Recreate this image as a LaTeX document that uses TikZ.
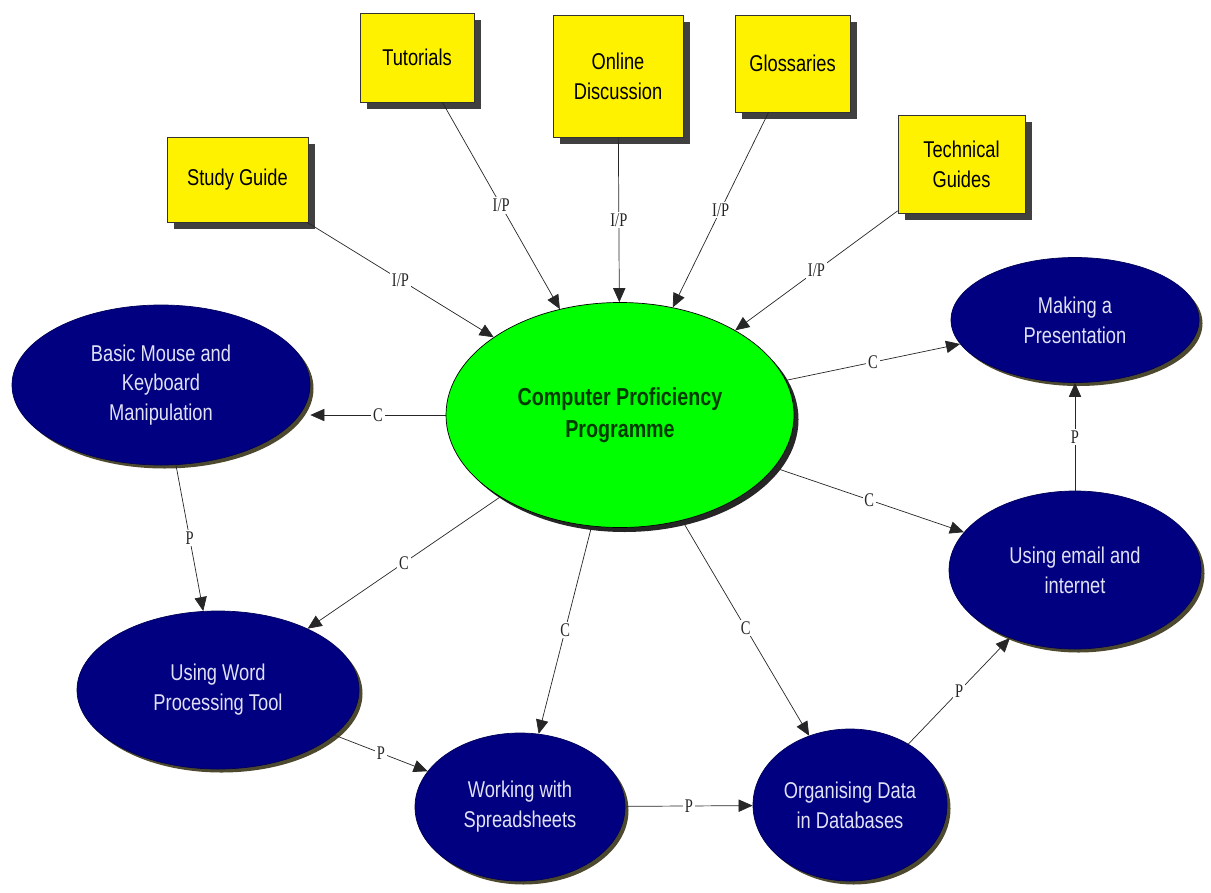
\documentclass[tikz,border=0pt]{standalone}
\usepackage{fontspec}
\setmainfont{Liberation Sans}
\newfontfamily\boxfont[FakeStretch=0.8]{Liberation Sans}
\newfontfamily\linkfont[FakeStretch=0.75]{Liberation Serif}
\usepackage{tikz}
\usetikzlibrary{shapes.geometric,shadows,arrows.meta}
\definecolor{navy}{RGB}{0,0,128}
\definecolor{lime}{RGB}{0,255,0}
\definecolor{darkgreen}{RGB}{0,60,0}
\definecolor{paletext}{RGB}{225,225,245}

\begin{document}
\begin{tikzpicture}[
    res/.style={draw=black!80, fill=yellow, rectangle, inner sep=0pt, align=center,
        font=\boxfont\fontsize{13}{17}\selectfont,
        drop shadow={shadow xshift=0.13cm, shadow yshift=-0.13cm, fill=black!75, opacity=1}},
    topic/.style={draw=navy!70!black, fill=navy, ellipse, inner sep=0pt, align=center,
        text=paletext, font=\boxfont\fontsize{13}{17}\selectfont,
        drop shadow={shadow xshift=0.07cm, shadow yshift=-0.07cm, fill=black!60!olive, opacity=1}},
    core/.style={draw=black, fill=lime, ellipse, inner sep=0pt, align=center,
        text=darkgreen, font=\boxfont\bfseries\fontsize{14}{18}\selectfont,
        drop shadow={shadow xshift=0.09cm, shadow yshift=-0.09cm, fill=black!85, opacity=1}},
    lbl/.style={fill=white, inner sep=1pt, text=black!85, font=\linkfont\fontsize{11}{11}\selectfont},
    link/.style={-{Triangle[length=8pt,width=7pt]}, draw=black!85}
]
\useasboundingbox (0,0) rectangle (24.22,-17.84);

% centre
\node (cpp) [core, minimum width=6.96cm, minimum height=4.5cm] at (12.4,-8.3) {Computer Proficiency\\Programme};

% resources
\node (sg) [res, minimum width=2.82cm, minimum height=1.7cm] at (4.75,-3.59) {Study Guide};
\node (tut) [res, minimum width=2.28cm, minimum height=1.78cm] at (8.34,-1.15) {Tutorials};
\node (od) [res, minimum width=2.6cm, minimum height=2.44cm] at (12.36,-1.52) {Online\\Discussion};
\node (glo) [res, minimum width=2.3cm, minimum height=1.94cm] at (15.85,-1.27) {Glossaries};
\node (tg) [res, minimum width=2.54cm, minimum height=1.96cm] at (19.23,-3.28) {Technical\\Guides};

% topics
\node (bmk) [topic, minimum width=5.96cm, minimum height=3.2cm] at (3.22,-7.7) {Basic Mouse and\\Keyboard\\Manipulation};
\node (wp) [topic, minimum width=5.64cm, minimum height=3.16cm] at (4.36,-13.8) {Using Word\\Processing Tool};
\node (ss) [topic, minimum width=4.2cm, minimum height=2.96cm] at (10.4,-16.14) {Working with\\Spreadsheets};
\node (db) [topic, minimum width=3.88cm, minimum height=3.04cm] at (17.0,-16.1) {Organising Data\\in Databases};
\node (em) [topic, minimum width=5.04cm, minimum height=3.16cm] at (21.5,-11.4) {Using email and\\internet};
\node (mp) [topic, minimum width=4.96cm, minimum height=2.5cm] at (21.5,-6.4) {Making a\\Presentation};

% inputs
\draw[link] (sg) -- node[lbl] {I/P} (cpp);
\draw[link] (tut) -- node[lbl] {I/P} (cpp);
\draw[link] (od) -- node[lbl] {I/P} (cpp);
\draw[link] (glo) -- node[lbl] {I/P} (cpp);
\draw[link] (tg) -- node[lbl] {I/P} (cpp);

% components
\draw[link] (cpp.west) -- node[lbl] {C} (cpp.west -| bmk.east);
\draw[link] (cpp) -- node[lbl] {C} (wp);
\draw[link] (cpp) -- node[lbl] {C} (ss);
\draw[link] (cpp) -- node[lbl] {C} (db);
\draw[link] (cpp) -- node[lbl] {C} (em);
\draw[link] (cpp) -- node[lbl] {C} (mp);

% prerequisites
\draw[link] (bmk) -- node[lbl] {P} (wp);
\draw[link] (wp) -- node[lbl] {P} (ss);
\draw[link] (ss) -- node[lbl] {P} (db);
\draw[link] (db) -- node[lbl] {P} (em);
\draw[link] (em) -- node[lbl] {P} (mp);
\end{tikzpicture}
\end{document}
